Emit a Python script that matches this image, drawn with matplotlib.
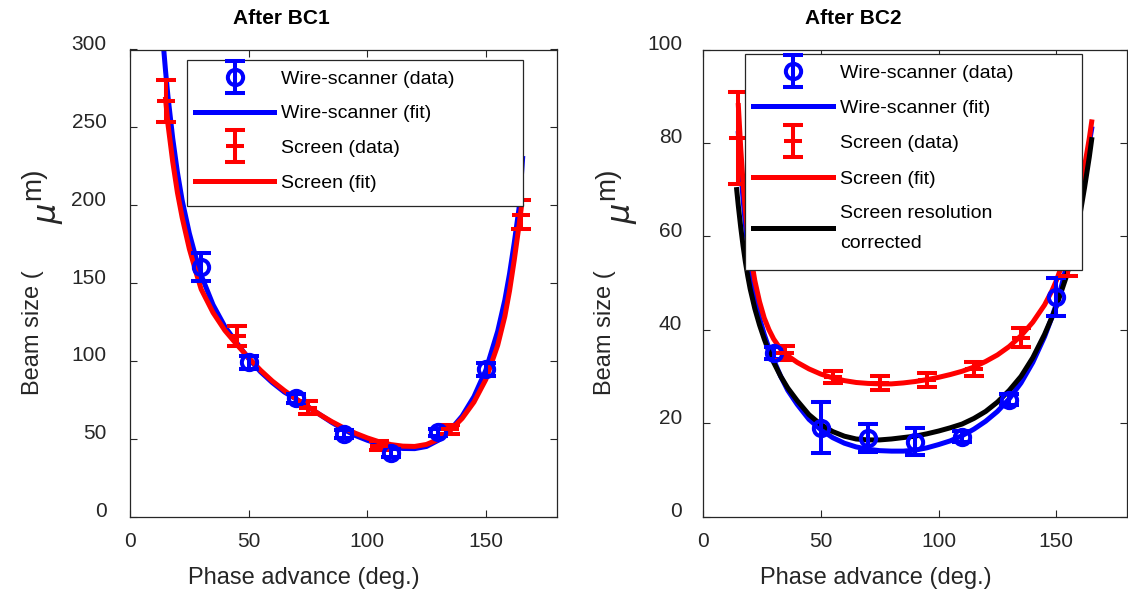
import numpy as np
import matplotlib
matplotlib.use('Agg')
import matplotlib.pyplot as plt
from matplotlib.patches import Rectangle
from matplotlib.legend_handler import HandlerErrorbar
from matplotlib.container import ErrorbarContainer
import matplotlib.transforms as mtransforms

plt.rcParams['font.family'] = ['Liberation Sans', 'DejaVu Sans']

# ---------------- After BC1 ----------------
bc1_ws_x = [30, 50, 70, 90, 110, 130, 150]
bc1_ws_y = [160.5, 99, 76, 53, 41, 54, 94.5]
bc1_ws_err = [9, 4, 3, 2.5, 2.5, 2.5, 4]

bc1_sc_x = [15, 45, 75, 105, 135, 165]
bc1_sc_y = [267, 116, 70, 45.5, 56, 194]
bc1_sc_err = [13.5, 6.5, 4, 3, 3, 9.5]

bc1_wsfit_x = [14, 15, 16, 18, 20, 22, 25, 28, 30, 35, 40, 45, 50, 55, 60, 65, 70, 75,
               80, 85, 90, 95, 100, 105, 110, 115, 120, 125, 130, 135, 140, 145, 150,
               155, 158, 160, 162, 164, 165, 165.5]
bc1_wsfit_y = [304, 286, 270, 243, 221, 203, 182, 165, 155, 136, 122, 111.5, 101.5, 93,
               86, 80, 75.5, 70.5, 65.5, 60.5, 56, 52, 49, 46.5, 44.7, 43.7, 43.6, 45,
               49, 55.5, 64.5, 77, 94, 119, 139, 156, 176, 198, 219, 230]

bc1_scfit_x = [15, 16, 18, 20, 22, 25, 28, 30, 35, 40, 45, 50, 55, 60, 65, 70, 75, 80,
               85, 90, 95, 100, 105, 110, 115, 120, 125, 130, 135, 140, 145, 150, 155,
               158, 160, 162, 164, 165]
bc1_scfit_y = [268, 252, 228, 208, 192, 172, 156, 146, 131, 119.5, 110.5, 102, 94, 87,
               81, 75.5, 70.5, 65.5, 61, 57, 53.5, 50.5, 48, 46.2, 45.2, 45, 46.3, 49.6,
               55.3, 63, 73.5, 88, 110, 128.5, 145, 165, 187, 199]

# ---------------- After BC2 ----------------
bc2_ws_x = [30, 50, 70, 90, 110, 130, 150]
bc2_ws_y = [35, 19, 16.8, 16, 17.1, 25, 47]
bc2_ws_err = [1.2, 5.5, 3, 2.9, 1.2, 1.2, 4.1]

bc2_sc_x = [15, 35, 55, 75, 95, 115, 135, 155]
bc2_sc_y = [81, 35.1, 29.8, 28.5, 29.3, 31.6, 38.3, 58]
bc2_sc_err = [9.8, 1.5, 1.3, 1.5, 1.5, 1.5, 2, 6.5]

bc2_wsfit_x = [15, 16, 17, 18, 19, 20, 22, 24, 26, 28, 30, 33, 36, 40, 45, 50, 55, 60,
               65, 70, 75, 80, 85, 90, 95, 100, 105, 110, 115, 120, 125, 130, 135, 140,
               145, 148, 150, 152, 154, 156, 158, 160, 162, 164, 165]
bc2_wsfit_y = [82, 74.5, 68, 62.5, 57.5, 53.5, 47, 42.5, 39, 36, 33.5, 30, 27, 24, 20.8,
               18.6, 16.9, 15.7, 14.9, 14.4, 14.1, 14, 14, 14.2, 14.7, 15.4, 16.2, 17.3,
               18.7, 20.4, 22.5, 25.2, 28.6, 33, 38.5, 42.5, 45.5, 49, 53, 57.5, 62.5,
               68, 74, 80, 83]

bc2_scfit_x = [15, 16, 17, 18, 19, 20, 22, 24, 26, 28, 30, 33, 36, 40, 45, 50, 55, 60,
               65, 70, 75, 80, 85, 90, 95, 100, 105, 110, 115, 120, 125, 130, 135, 140,
               145, 148, 150, 152, 154, 156, 158, 160, 162, 164, 165]
bc2_scfit_y = [88, 79, 71.5, 65.5, 60.5, 56.5, 50.5, 46, 42.5, 40, 38, 35.8, 34.4, 33,
               31.6, 30.5, 29.7, 29.1, 28.7, 28.5, 28.4, 28.4, 28.6, 28.9, 29.3, 29.8,
               30.4, 31.1, 32, 33.2, 34.6, 36.4, 38.7, 41.6, 45.3, 48.2, 50.5, 53.3,
               56.5, 60.2, 64.5, 69.5, 75, 81, 84.5]

bc2_corr_x = [14.3, 15, 16, 17, 18, 19, 20, 22, 24, 26, 28, 30, 33, 36, 40, 45, 50, 55,
              60, 65, 70, 75, 80, 85, 90, 95, 100, 105, 110, 115, 120, 125, 130, 135,
              140, 145, 148, 150, 152, 154, 156, 158, 160, 162, 164, 165]
bc2_corr_y = [70, 66.5, 62, 58, 54.5, 51.5, 48.8, 44.5, 41, 38, 35.3, 33, 30, 27.5, 24.8,
              21.8, 19.7, 18.2, 17.2, 16.6, 16.4, 16.4, 16.6, 16.9, 17.2, 17.7, 18.3, 19,
              19.8, 21, 22.5, 24.5, 27, 30, 34, 39, 42.5, 45, 48, 51, 54.5, 59, 64.5,
              70.5, 77, 80.7]

W, H = 1128, 598
fig = plt.figure(figsize=(W / 100, H / 100), dpi=100)

GRAY = '#262626'
BLUE = '#0000ff'
RED = '#ff0000'
LW = 3.6
EBLW = 2.9


def px_axes(x0, x1, ytop, ybot):
    return fig.add_axes([x0 / W, 1 - ybot / H, (x1 - x0) / W, (ybot - ytop) / H])


def style_axes(ax, yticks, ylim, ypad):
    ax.set_xlim(0, 180)
    ax.set_ylim(*ylim)
    ax.set_xticks([0, 50, 100, 150])
    ax.set_yticks(yticks)
    ax.tick_params(direction='in', top=True, right=True, length=5, width=0.8,
                   colors=GRAY, labelsize=15, labelcolor=GRAY)
    ax.tick_params(axis='x', pad=11)
    ax.tick_params(axis='y', pad=ypad)
    for s in ax.spines.values():
        s.set_color(GRAY)
        s.set_linewidth(0.9)
    off = mtransforms.ScaledTranslation(0, 7 / 100, fig.dpi_scale_trans)
    for lab in ax.get_yticklabels():
        lab.set_transform(lab.get_transform() + off)


def draw_ws(ax, x, y, e):
    return ax.errorbar(x, y, yerr=e, fmt='o', color=BLUE, mfc='none', mec=BLUE,
                       ms=11, mew=2.9, elinewidth=EBLW, capsize=7, capthick=EBLW,
                       zorder=3)


def draw_sc(ax, x, y, e):
    return ax.errorbar(x, y, yerr=e, fmt='_', color=RED, ms=13, mew=EBLW,
                       elinewidth=EBLW, capsize=7, capthick=EBLW, zorder=3)


def ylabel_parts(ax, xc_main, xc_mu, xc_m):
    ax.set_ylabel('Beam size (', fontsize=17, color=GRAY)
    ax.yaxis.set_label_coords(0, 0)
    ax.yaxis.label.set_transform(fig.transFigure)
    ax.yaxis.label.set_position((xc_main / W, 1 - 333 / H))
    ax.yaxis.label.set_va('center')
    ax.yaxis.label.set_ha('center')
    fig.text(xc_mu / W, 1 - 214 / H, 'μ', rotation=90, fontsize=23, style='italic',
             ha='center', va='center', color=GRAY, family='DejaVu Sans')
    fig.text(xc_m / W, 1 - 184 / H, 'm)', rotation=90, fontsize=20,
             ha='center', va='center', color=GRAY)


def legend_box(ax, x0, y0, x1, y1):
    r = Rectangle((x0 / W, 1 - y1 / H), (x1 - x0) / W, (y1 - y0) / H,
                  transform=fig.transFigure, facecolor='white', edgecolor=GRAY,
                  linewidth=0.9, zorder=4, clip_on=False)
    ax.add_patch(r)


hmap = {ErrorbarContainer: HandlerErrorbar(yerr_size=0.82)}

# ---------- left panel ----------
ax1 = px_axes(130, 557, 49.5, 516.5)
style_axes(ax1, [0, 50, 100, 150, 200, 250, 300], (0, 300), 17)
e1 = draw_ws(ax1, bc1_ws_x, bc1_ws_y, bc1_ws_err)
l1, = ax1.plot(bc1_wsfit_x, bc1_wsfit_y, color=BLUE, lw=LW, zorder=2)
e2 = draw_sc(ax1, bc1_sc_x, bc1_sc_y, bc1_sc_err)
l2, = ax1.plot(bc1_scfit_x, bc1_scfit_y, color=RED, lw=LW, zorder=2.5)
ax1.set_title('After BC1', fontsize=15, fontweight='bold', x=0.354,
              y=(516.5 - 18) / 467, va='center', pad=0)
ax1.set_xlabel('Phase advance (deg.)', fontsize=17, color=GRAY, va='center')
ax1.xaxis.set_label_coords(0.407, (516.5 - 578) / 467)
ylabel_parts(ax1, 33, 48, 33)
legend_box(ax1, 187, 60, 523, 206)
leg1 = ax1.legend([e1, l1, e2, l2],
                  ['Wire-scanner (data)', 'Wire-scanner (fit)', 'Screen (data)', 'Screen (fit)'],
                  loc='upper left', bbox_to_anchor=(195 / W, 1 - 70 / H),
                  bbox_transform=fig.transFigure, frameon=False, fontsize=14,
                  handlelength=4.07, handletextpad=0.36, labelspacing=0.88,
                  borderpad=0, borderaxespad=0, numpoints=1, handler_map=hmap)
leg1.set_zorder(5)

# ---------- right panel ----------
ax2 = px_axes(703, 1127, 49.5, 516.5)
style_axes(ax2, [0, 20, 40, 60, 80, 100], (0, 100), 15)
f1 = draw_ws(ax2, bc2_ws_x, bc2_ws_y, bc2_ws_err)
k1, = ax2.plot(bc2_wsfit_x, bc2_wsfit_y, color=BLUE, lw=LW, zorder=2)
f2 = draw_sc(ax2, bc2_sc_x, bc2_sc_y, bc2_sc_err)
k2, = ax2.plot(bc2_scfit_x, bc2_scfit_y, color=RED, lw=LW, zorder=2.5)
k3, = ax2.plot(bc2_corr_x, bc2_corr_y, color='black', lw=LW, zorder=2.6)
ax2.set_title('After BC2', fontsize=15, fontweight='bold', x=0.354,
              y=(516.5 - 18) / 467, va='center', pad=0)
ax2.set_xlabel('Phase advance (deg.)', fontsize=17, color=GRAY, va='center')
ax2.xaxis.set_label_coords(0.408, (516.5 - 578) / 467)
ylabel_parts(ax2, 605, 622, 607)
legend_box(ax2, 745, 54, 1082, 270)
leg2 = ax2.legend([f1, k1, f2, k2, k3],
                  ['Wire-scanner (data)', 'Wire-scanner (fit)', 'Screen (data)', 'Screen (fit)',
                   'Screen resolution\ncorrected'],
                  loc='upper left', bbox_to_anchor=(753 / W, 1 - 64 / H),
                  bbox_transform=fig.transFigure, frameon=False, fontsize=14,
                  handlelength=4.1, handletextpad=0.36, labelspacing=0.91,
                  borderpad=0, borderaxespad=0, numpoints=1, handler_map=hmap)
leg2.get_texts()[-1].set_linespacing(2.0)
leg2.set_zorder(5)

fig.savefig('out.png', dpi=100)
